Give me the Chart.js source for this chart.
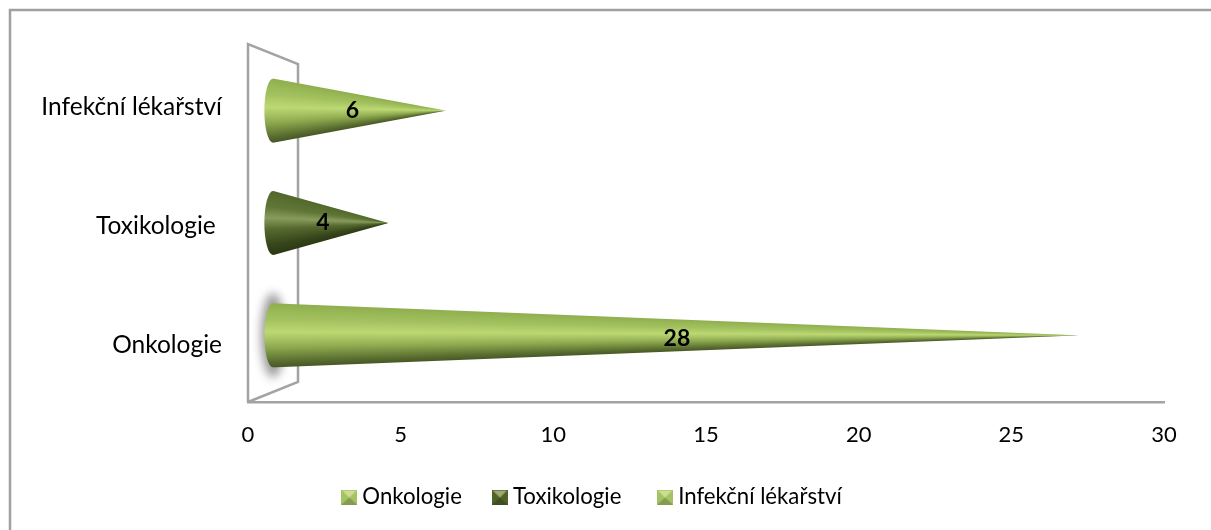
<!DOCTYPE html>
<html>
<head>
<meta charset="utf-8">
<style>
  html, body { margin: 0; padding: 0; background: #fff; }
  canvas { display: block; }
</style>
</head>
<body>
<canvas id="coneChart" width="1211" height="530"></canvas>
<script src="https://cdn.jsdelivr.net/npm/chart.js@4/dist/chart.umd.min.js"></script>
<script>
// data, first category sits at the bottom like in the original
const categories = ["Onkologie", "Toxikologie ", "Infekční lékařství"];
const values = [28, 4, 6];
const xTicks = [0, 5, 10, 15, 20, 25, 30];

// cone shading, top edge -> highlight -> bottom edge
const lightGreen = [[0, "#8fae4d"], [0.25, "#a3c25f"], [0.45, "#bcd873"], [0.68, "#8fab50"], [0.9, "#5b6f30"], [1, "#475726"]];
const darkGreen = [[0, "#52682a"], [0.25, "#5f7637"], [0.42, "#879b5c"], [0.6, "#55692f"], [0.85, "#36451a"], [1, "#2c3914"]];
const coneShades = [lightGreen, darkGreen, lightGreen];
const legendColors = ["#a5c364", "#4f6228", "#a5c364"];

const wallColor = "#a3a3a3";
const depth = { dx: 50, dy: 20, shrink: 0.9415, coneDx: 25 };
const font = "Lato, Carlito, sans-serif";

// little envelope shaped legend marker
function legendMarker(color) {
  const c = document.createElement("canvas");
  c.width = 16; c.height = 15;
  const g = c.getContext("2d");
  g.fillStyle = color;
  g.fillRect(0, 0, 16, 15);
  g.fillStyle = "rgba(0,0,0,0.2)";
  g.beginPath(); g.moveTo(0, 15); g.lineTo(8, 8); g.lineTo(16, 15); g.fill();
  g.fillStyle = "rgba(255,255,200,0.45)";
  g.beginPath(); g.moveTo(1, 1); g.lineTo(8, 8); g.lineTo(15, 1); g.fill();
  return c;
}
const markers = legendColors.map(legendMarker);

const conePlugin = {
  id: "cones",
  beforeInit(chart) {
    // legend item gap comes from labels.padding, keep it from eating the height
    const fit = chart.legend.fit;
    chart.legend.fit = function () {
      fit.call(this);
      this.height = 80;
    };
  },
  beforeDatasetsDraw(chart) {
    // the 3d side wall and back wall
    const { ctx, chartArea: a } = chart;
    ctx.save();
    ctx.strokeStyle = wallColor;
    ctx.lineWidth = 2.5;
    ctx.beginPath();
    ctx.moveTo(a.left, a.bottom);
    ctx.lineTo(a.left, a.top);
    ctx.lineTo(a.left + depth.dx, a.top + depth.dy);
    ctx.lineTo(a.left + depth.dx, a.bottom - depth.dy);
    ctx.lineTo(a.left, a.bottom);
    ctx.stroke();
    ctx.restore();
  },
  afterDatasetsDraw(chart) {
    const { ctx, chartArea: a } = chart;
    const midY = (a.top + a.bottom) / 2;
    const meta = chart.getDatasetMeta(0);
    meta.data.forEach((bar, i) => {
      // bars live on the front plane, cones stand further back
      const baseX = bar.base + depth.coneDx;
      const tipX = baseX + (bar.x - bar.base) * depth.shrink;
      const y = midY + (bar.y - midY) * depth.shrink;
      const r = bar.height * depth.shrink / 2;
      const rx = r * 0.27;
      const stops = coneShades[i];

      if (i === 0) {
        ctx.save();
        ctx.filter = "blur(5px)";
        ctx.fillStyle = "#9a9a9a";
        ctx.beginPath();
        ctx.ellipse(baseX, y, rx * 1.4, r * 1.32, 0, 0, Math.PI * 2);
        ctx.fill();
        ctx.restore();
      }

      const gradFor = h => {
        const g = ctx.createLinearGradient(0, y - h, 0, y + h);
        stops.forEach(s => g.addColorStop(s[0], s[1]));
        return g;
      };

      // rounded base
      ctx.fillStyle = gradFor(r);
      ctx.beginPath();
      ctx.ellipse(baseX, y, rx, r, 0, Math.PI / 2, Math.PI * 1.5);
      ctx.fill();

      // cone body, column by column so the highlight runs into the tip
      for (let x = baseX; x < tipX; x++) {
        const h = r * (1 - (x - baseX) / (tipX - baseX));
        ctx.fillStyle = gradFor(h);
        ctx.fillRect(x, y - h, 1, 2 * h);
      }

      // value label
      ctx.fillStyle = "#000";
      ctx.font = "bold 23px " + font;
      ctx.textAlign = "center";
      ctx.textBaseline = "middle";
      ctx.fillText(String(values[i]), baseX - 9 + (tipX - baseX) * 0.513, y + (i === 0 ? 3 : 0));
    });
  },
  afterDraw(chart) {
    // outer frame, only top and left are inside the picture
    const { ctx, width, height } = chart;
    ctx.save();
    ctx.strokeStyle = "#a0a0a0";
    ctx.lineWidth = 2.5;
    ctx.beginPath();
    ctx.moveTo(10, height);
    ctx.lineTo(10, 10);
    ctx.lineTo(width, 10);
    ctx.stroke();
    ctx.restore();
  }
};

new Chart(document.getElementById("coneChart"), {
  type: "bar",
  plugins: [conePlugin],
  data: {
    labels: categories,
    datasets: [{
      data: values,
      backgroundColor: "transparent",
      barThickness: 68
    }]
  },
  options: {
    indexAxis: "y",
    responsive: false,
    animation: false,
    layout: { padding: { left: 25, right: 47, top: 44, bottom: 0 } },
    scales: {
      x: {
        min: 0,
        max: 30,
        afterBuildTicks: s => { s.ticks = xTicks.map(v => ({ value: v })); },
        grid: { display: false, drawTicks: false },
        border: { display: true, color: wallColor, width: 2.5 },
        ticks: { color: "#000", padding: 20, maxRotation: 0, font: { family: font, size: 22 } },
        afterFit: s => { s.height = 48; }
      },
      y: {
        reverse: true,
        grid: { display: false, drawTicks: false },
        border: { display: false },
        ticks: { color: "#000", padding: 26, labelOffset: 3, font: { family: font, size: 24.5 } },
        afterFit: s => { s.width = 223; }
      }
    },
    plugins: {
      tooltip: { enabled: false },
      legend: {
        position: "bottom",
        labels: {
          usePointStyle: true,
          boxWidth: 4,
          color: "#000",
          padding: 36,
          font: { family: font, size: 22.2 },
          generateLabels: () => categories.map((c, i) => ({
            text: c,
            pointStyle: markers[i],
            datasetIndex: 0,
            index: i,
            fontColor: "#000",
            lineWidth: 0
          }))
        }
      }
    }
  }
});
</script>
</body>
</html>
